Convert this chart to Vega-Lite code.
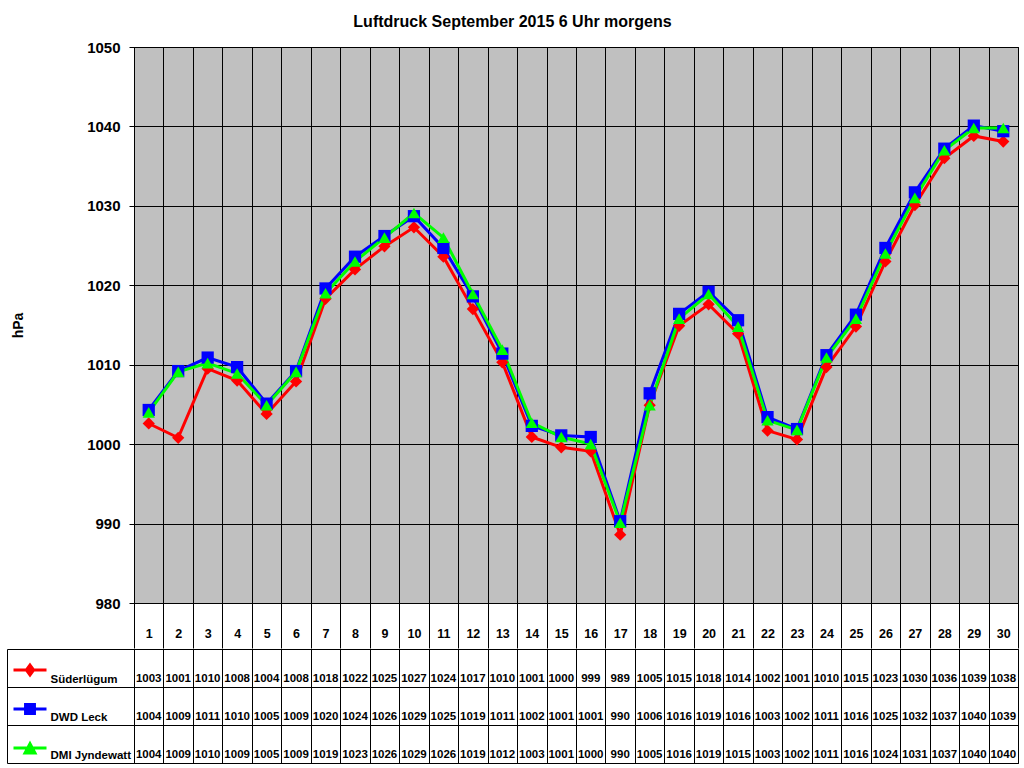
{
  "$schema": "https://vega.github.io/schema/vega-lite/v6.json",
  "background": "white",
  "padding": {"left": 6, "top": 13, "right": 5, "bottom": 5},
  "title": {"text": "Luftdruck September 2015 6 Uhr morgens", "font": "Liberation Sans", "fontSize": 16, "fontWeight": "bold", "color": "black", "anchor": "middle", "offset": 10},
  "datasets": {
    "p": [
      {"day": 1, "series": "Süderlügum", "hPa": 1002.6, "label": 1003},
      {"day": 2, "series": "Süderlügum", "hPa": 1000.8, "label": 1001},
      {"day": 3, "series": "Süderlügum", "hPa": 1009.5, "label": 1010},
      {"day": 4, "series": "Süderlügum", "hPa": 1008.0, "label": 1008},
      {"day": 5, "series": "Süderlügum", "hPa": 1003.8, "label": 1004},
      {"day": 6, "series": "Süderlügum", "hPa": 1007.9, "label": 1008},
      {"day": 7, "series": "Süderlügum", "hPa": 1018.3, "label": 1018},
      {"day": 8, "series": "Süderlügum", "hPa": 1022.0, "label": 1022},
      {"day": 9, "series": "Süderlügum", "hPa": 1024.9, "label": 1025},
      {"day": 10, "series": "Süderlügum", "hPa": 1027.3, "label": 1027},
      {"day": 11, "series": "Süderlügum", "hPa": 1023.6, "label": 1024},
      {"day": 12, "series": "Süderlügum", "hPa": 1017.0, "label": 1017},
      {"day": 13, "series": "Süderlügum", "hPa": 1010.3, "label": 1010},
      {"day": 14, "series": "Süderlügum", "hPa": 1000.9, "label": 1001},
      {"day": 15, "series": "Süderlügum", "hPa": 999.6, "label": 1000},
      {"day": 16, "series": "Süderlügum", "hPa": 999.1, "label": 999},
      {"day": 17, "series": "Süderlügum", "hPa": 988.6, "label": 989},
      {"day": 18, "series": "Süderlügum", "hPa": 1004.9, "label": 1005},
      {"day": 19, "series": "Süderlügum", "hPa": 1014.9, "label": 1015},
      {"day": 20, "series": "Süderlügum", "hPa": 1017.6, "label": 1018},
      {"day": 21, "series": "Süderlügum", "hPa": 1013.9, "label": 1014},
      {"day": 22, "series": "Süderlügum", "hPa": 1001.7, "label": 1002},
      {"day": 23, "series": "Süderlügum", "hPa": 1000.6, "label": 1001},
      {"day": 24, "series": "Süderlügum", "hPa": 1009.7, "label": 1010},
      {"day": 25, "series": "Süderlügum", "hPa": 1014.8, "label": 1015},
      {"day": 26, "series": "Süderlügum", "hPa": 1023.0, "label": 1023},
      {"day": 27, "series": "Süderlügum", "hPa": 1030.1, "label": 1030},
      {"day": 28, "series": "Süderlügum", "hPa": 1036.0, "label": 1036},
      {"day": 29, "series": "Süderlügum", "hPa": 1038.8, "label": 1039},
      {"day": 30, "series": "Süderlügum", "hPa": 1038.1, "label": 1038},
      {"day": 1, "series": "DWD Leck", "hPa": 1004.3, "label": 1004},
      {"day": 2, "series": "DWD Leck", "hPa": 1009.2, "label": 1009},
      {"day": 3, "series": "DWD Leck", "hPa": 1010.9, "label": 1011},
      {"day": 4, "series": "DWD Leck", "hPa": 1009.7, "label": 1010},
      {"day": 5, "series": "DWD Leck", "hPa": 1005.1, "label": 1005},
      {"day": 6, "series": "DWD Leck", "hPa": 1009.2, "label": 1009},
      {"day": 7, "series": "DWD Leck", "hPa": 1019.6, "label": 1020},
      {"day": 8, "series": "DWD Leck", "hPa": 1023.6, "label": 1024},
      {"day": 9, "series": "DWD Leck", "hPa": 1026.2, "label": 1026},
      {"day": 10, "series": "DWD Leck", "hPa": 1028.7, "label": 1029},
      {"day": 11, "series": "DWD Leck", "hPa": 1024.7, "label": 1025},
      {"day": 12, "series": "DWD Leck", "hPa": 1018.6, "label": 1019},
      {"day": 13, "series": "DWD Leck", "hPa": 1011.4, "label": 1011},
      {"day": 14, "series": "DWD Leck", "hPa": 1002.3, "label": 1002},
      {"day": 15, "series": "DWD Leck", "hPa": 1001.1, "label": 1001},
      {"day": 16, "series": "DWD Leck", "hPa": 1000.9, "label": 1001},
      {"day": 17, "series": "DWD Leck", "hPa": 990.3, "label": 990},
      {"day": 18, "series": "DWD Leck", "hPa": 1006.4, "label": 1006},
      {"day": 19, "series": "DWD Leck", "hPa": 1016.4, "label": 1016},
      {"day": 20, "series": "DWD Leck", "hPa": 1019.2, "label": 1019},
      {"day": 21, "series": "DWD Leck", "hPa": 1015.6, "label": 1016},
      {"day": 22, "series": "DWD Leck", "hPa": 1003.4, "label": 1003},
      {"day": 23, "series": "DWD Leck", "hPa": 1001.9, "label": 1002},
      {"day": 24, "series": "DWD Leck", "hPa": 1011.2, "label": 1011},
      {"day": 25, "series": "DWD Leck", "hPa": 1016.3, "label": 1016},
      {"day": 26, "series": "DWD Leck", "hPa": 1024.7, "label": 1025},
      {"day": 27, "series": "DWD Leck", "hPa": 1031.7, "label": 1032},
      {"day": 28, "series": "DWD Leck", "hPa": 1037.2, "label": 1037},
      {"day": 29, "series": "DWD Leck", "hPa": 1040.1, "label": 1040},
      {"day": 30, "series": "DWD Leck", "hPa": 1039.4, "label": 1039},
      {"day": 1, "series": "DMI Jyndewatt", "hPa": 1004.0, "label": 1004},
      {"day": 2, "series": "DMI Jyndewatt", "hPa": 1009.1, "label": 1009},
      {"day": 3, "series": "DMI Jyndewatt", "hPa": 1010.2, "label": 1010},
      {"day": 4, "series": "DMI Jyndewatt", "hPa": 1008.9, "label": 1009},
      {"day": 5, "series": "DMI Jyndewatt", "hPa": 1004.9, "label": 1005},
      {"day": 6, "series": "DMI Jyndewatt", "hPa": 1009.1, "label": 1009},
      {"day": 7, "series": "DMI Jyndewatt", "hPa": 1019.0, "label": 1019},
      {"day": 8, "series": "DMI Jyndewatt", "hPa": 1023.0, "label": 1023},
      {"day": 9, "series": "DMI Jyndewatt", "hPa": 1026.0, "label": 1026},
      {"day": 10, "series": "DMI Jyndewatt", "hPa": 1029.1, "label": 1029},
      {"day": 11, "series": "DMI Jyndewatt", "hPa": 1026.0, "label": 1026},
      {"day": 12, "series": "DMI Jyndewatt", "hPa": 1018.9, "label": 1019},
      {"day": 13, "series": "DMI Jyndewatt", "hPa": 1011.9, "label": 1012},
      {"day": 14, "series": "DMI Jyndewatt", "hPa": 1002.7, "label": 1003},
      {"day": 15, "series": "DMI Jyndewatt", "hPa": 1000.9, "label": 1001},
      {"day": 16, "series": "DMI Jyndewatt", "hPa": 1000.0, "label": 1000},
      {"day": 17, "series": "DMI Jyndewatt", "hPa": 990.1, "label": 990},
      {"day": 18, "series": "DMI Jyndewatt", "hPa": 1004.9, "label": 1005},
      {"day": 19, "series": "DMI Jyndewatt", "hPa": 1015.8, "label": 1016},
      {"day": 20, "series": "DMI Jyndewatt", "hPa": 1018.9, "label": 1019},
      {"day": 21, "series": "DMI Jyndewatt", "hPa": 1014.8, "label": 1015},
      {"day": 22, "series": "DMI Jyndewatt", "hPa": 1003.0, "label": 1003},
      {"day": 23, "series": "DMI Jyndewatt", "hPa": 1001.8, "label": 1002},
      {"day": 24, "series": "DMI Jyndewatt", "hPa": 1010.9, "label": 1011},
      {"day": 25, "series": "DMI Jyndewatt", "hPa": 1015.8, "label": 1016},
      {"day": 26, "series": "DMI Jyndewatt", "hPa": 1024.0, "label": 1024},
      {"day": 27, "series": "DMI Jyndewatt", "hPa": 1031.0, "label": 1031},
      {"day": 28, "series": "DMI Jyndewatt", "hPa": 1037.0, "label": 1037},
      {"day": 29, "series": "DMI Jyndewatt", "hPa": 1039.8, "label": 1040},
      {"day": 30, "series": "DMI Jyndewatt", "hPa": 1039.8, "label": 1040}
    ]
  },
  "spacing": -7,
  "resolve": {
    "scale": {"x": "independent", "y": "independent", "shape": "independent", "color": "independent", "fill": "independent", "stroke": "independent"},
    "legend": {"shape": "independent", "color": "independent", "fill": "independent", "stroke": "independent"}
  },
  "vconcat": [
    {
      "width": 884,
      "height": 556,
      "data": {"name": "p"},
      "view": {"fill": "#C0C0C0", "stroke": "black", "strokeWidth": 1},
      "encoding": {
        "x": {
          "field": "day", "type": "ordinal", "bandPosition": 0.5,
          "scale": {"type": "band", "paddingInner": 0, "paddingOuter": 0},
          "axis": {
            "title": null, "tickBand": "extent", "grid": true, "gridColor": "black", "gridOpacity": 1, "gridWidth": 1,
            "ticks": true, "tickSize": 45, "tickColor": "black", "tickWidth": 1, "domainColor": "black",
            "labelAngle": 0, "labelFont": "Liberation Sans", "labelFontWeight": "bold",
            "labelFontSize": 12.5, "labelColor": "black", "labelPadding": -21, "labelBaseline": "top"
          }
        },
        "y": {
          "field": "hPa", "type": "quantitative",
          "scale": {"domain": [980, 1050], "nice": false, "zero": false},
          "axis": {
            "title": "hPa", "values": [980, 990, 1000, 1010, 1020, 1030, 1040, 1050], "format": "d",
            "grid": true, "gridColor": "black", "gridOpacity": 1, "gridWidth": 1,
            "tickSize": 5, "tickColor": "black", "domainColor": "black",
            "labelFont": "Liberation Sans", "labelFontSize": 15, "labelFontWeight": "bold", "labelColor": "black", "labelPadding": 9,
            "titleFont": "Liberation Sans", "titleFontSize": 14, "titleFontWeight": "bold", "titleColor": "black",
            "titleX": -116, "titleY": 278, "titleAngle": 270, "titleAlign": "center", "titleBaseline": "middle"
          }
        },
        "color": {
          "field": "series", "type": "nominal",
          "scale": {"domain": ["Süderlügum", "DWD Leck", "DMI Jyndewatt"], "range": ["#FF0000", "#0000FF", "#00FF00"]},
          "legend": null
        }
      },
      "layer": [
        {"mark": {"type": "line", "strokeWidth": 3}},
        {
          "mark": {"type": "point", "filled": true, "opacity": 1, "size": 150},
          "encoding": {
            "shape": {
              "field": "series", "type": "nominal",
              "scale": {"domain": ["Süderlügum", "DWD Leck", "DMI Jyndewatt"], "range": ["diamond", "square", "triangle-up"]},
              "legend": null
            }
          }
        }
      ]
    },
    {
      "width": 884,
      "height": 114,
      "data": {"name": "p"},
      "view": {"fill": "white", "stroke": "black", "strokeWidth": 1},
      "layer": [
        {
          "mark": {"type": "text", "font": "Liberation Sans", "fontWeight": "bold", "fontSize": 11.5, "dy": 11, "color": "black"},
          "encoding": {
            "x": {
              "field": "day", "type": "ordinal", "bandPosition": 0.5,
              "scale": {"type": "band", "paddingInner": 0, "paddingOuter": 0},
              "axis": {"title": null, "labels": false, "ticks": false, "domain": false, "grid": true, "gridColor": "black", "gridOpacity": 1, "gridWidth": 1, "tickBand": "extent"}
            },
            "y": {
              "field": "series", "type": "nominal", "bandPosition": 0.5,
              "scale": {"type": "band", "domain": ["Süderlügum", "DWD Leck", "DMI Jyndewatt"], "paddingInner": 0, "paddingOuter": 0},
              "axis": {
                "title": null, "offset": 127, "domain": true, "domainColor": "black", "tickBand": "extent",
                "ticks": true, "tickSize": -127, "tickColor": "black", "grid": true, "gridColor": "black", "gridOpacity": 1, "gridWidth": 1,
                "labelAlign": "left", "labelPadding": 84, "labelOffset": 11, "labelBaseline": "middle",
                "labelFont": "Liberation Sans", "labelFontWeight": "bold", "labelFontSize": 11.5, "labelColor": "black"
              }
            },
            "text": {"field": "label", "type": "quantitative", "format": "d"}
          }
        },
        {
          "transform": [{"filter": "false"}],
          "mark": {"type": "point", "filled": true, "opacity": 1},
          "encoding": {
            "shape": {
              "field": "series", "type": "nominal",
              "scale": {"domain": ["Süderlügum", "DWD Leck", "DMI Jyndewatt"], "range": ["M-1,0H1M0,-0.3L0.22,0L0,0.3L-0.22,0Z", "M-1,0H1M-0.27,-0.27H0.27V0.27H-0.27Z", "M-1,0H1M0,-0.26L0.3,0.3H-0.3Z"]},
              "legend": {"title": null, "orient": "none", "legendX": -122, "legendY": 3, "labelExpr": "''", "symbolSize": 1089, "symbolStrokeWidth": 3, "rowPadding": 10, "padding": 0, "labelOffset": 0, "symbolOffset": 0, "direction": "vertical"}
            },
            "fill": {
              "field": "series", "type": "nominal",
              "scale": {"domain": ["Süderlügum", "DWD Leck", "DMI Jyndewatt"], "range": ["#FF0000", "#0000FF", "#00FF00"]},
              "legend": {"title": null, "orient": "none", "legendX": -122, "legendY": 3, "labelExpr": "''", "symbolSize": 1089, "symbolStrokeWidth": 3, "rowPadding": 10, "padding": 0, "labelOffset": 0, "symbolOffset": 0, "direction": "vertical"}
            },
            "stroke": {
              "field": "series", "type": "nominal",
              "scale": {"domain": ["Süderlügum", "DWD Leck", "DMI Jyndewatt"], "range": ["#FF0000", "#0000FF", "#00FF00"]},
              "legend": {"title": null, "orient": "none", "legendX": -122, "legendY": 3, "labelExpr": "''", "symbolSize": 1089, "symbolStrokeWidth": 3, "rowPadding": 10, "padding": 0, "labelOffset": 0, "symbolOffset": 0, "direction": "vertical"}
            }
          }
        }
      ]
    }
  ]
}
